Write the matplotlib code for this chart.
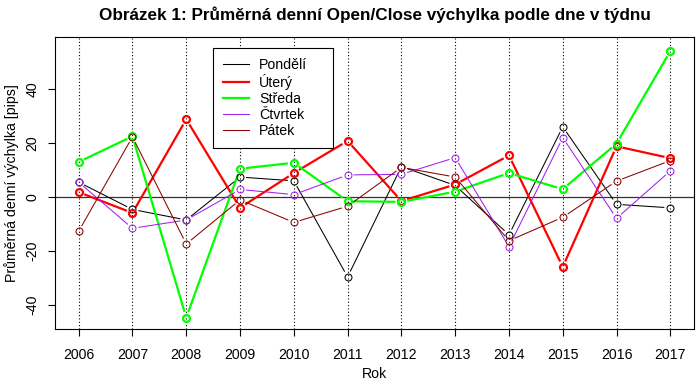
import numpy as np
import matplotlib
matplotlib.use("Agg")
import matplotlib.pyplot as plt

years = [2006, 2007, 2008, 2009, 2010, 2011, 2012, 2013, 2014, 2015, 2016, 2017]
pondeli = [5.5, -4.6, -8.5, 7.4, 6.0, -29.6, 11.3, 4.3, -14.0, 26.0, -2.7, -4.0]
utery = [1.8, -5.9, 28.8, -4.0, 8.9, 20.8, -1.5, 4.65, 15.4, -25.9, 18.8, 14.4]
streda = [13.0, 22.5, -44.7, 10.5, 12.7, -1.55, -1.8, 2.0, 8.9, 2.9, 19.8, 54.1]
ctvrtek = [5.5, -11.6, -8.5, 2.8, 0.9, 8.2, 8.4, 14.6, -18.4, 22.0, -7.9, 9.7]
patek = [-12.7, 22.3, -17.4, -1.05, -9.4, -3.4, 11.0, 7.4, -16.2, -7.5, 5.9, 13.5]

names = ["Pondělí", "Úterý", "Středa", "Čtvrtek", "Pátek"]
series = [pondeli, utery, streda, ctvrtek, patek]
colors = ["black", "#FF0000", "#00FF00", "#A020F0", "#8B0000"]
widths = [0.75, 1.6, 1.6, 0.75, 0.75]

plt.rcParams['font.family'] = ['Liberation Sans', 'DejaVu Sans']

fig = plt.figure(figsize=(7.0, 3.84), dpi=100)
ax = fig.add_axes([55/700, 1-329/384, (694-55)/700, (329-37)/384])

xmin, xmax = min(years), max(years)
pad = (xmax - xmin) * 0.04
ax.set_xlim(xmin - pad, xmax + pad)
ax.set_ylim(-48.9, 59.3)

for y in years:
    ax.axvline(y, color="black", lw=0.8, ls=(0, (1, 2)), zorder=1)
ax.axhline(0, color="#333333", lw=0.9, zorder=1)

gap = 6.0  # pixels
trans = ax.transData
inv = trans.inverted()
for vals, c, w in zip(series, colors, widths):
    pts = trans.transform(np.column_stack([years, vals]))
    for i in range(len(pts) - 1):
        p0, p1 = pts[i], pts[i + 1]
        d = p1 - p0
        L = np.hypot(*d)
        if L <= 2 * gap:
            continue
        u = d / L
        a = inv.transform(p0 + u * gap)
        b = inv.transform(p1 - u * gap)
        ax.plot([a[0], b[0]], [a[1], b[1]], color=c, lw=w, solid_capstyle='butt', zorder=2)
    ax.plot(years, vals, ls='none', marker='o', markersize=5.0, markerfacecolor='none',
            markeredgecolor=c, markeredgewidth=w, zorder=3)

fs = 10.2
handles = [plt.Line2D([], [], color=c, lw=w) for c, w in zip(colors, widths)]
lx0 = (213 - 55) / 639
lw_ = (333 - 213) / 639
ltop = 1 - (48 - 37) / 292
leg = ax.legend(handles, names, loc='upper left',
                bbox_to_anchor=(lx0, ltop - 0.3, lw_, 0.3), mode='expand',
                fancybox=False, frameon=True, edgecolor='black', framealpha=1,
                fontsize=fs, handlelength=1.8, handletextpad=0.75,
                labelspacing=0.14, borderpad=0.72, borderaxespad=0)
leg.get_frame().set_linewidth(0.8)

ax.set_xticks(years)
ax.set_xticklabels([str(y) for y in years])
ax.set_yticks([-40, -20, 0, 20, 40])
ax.set_yticklabels(["-40", "-20", "0", "20", "40"], rotation=90, va='center')
ax.tick_params(axis='x', direction='out', length=5, width=0.8, labelsize=fs, pad=8.5)
ax.tick_params(axis='y', direction='out', length=5, width=0.8, labelsize=fs, pad=6)
for s in ax.spines.values():
    s.set_linewidth(0.8)

ax.set_xlabel("Rok", fontsize=fs, labelpad=4)
ax.set_ylabel("Průměrná denní výchylka [pips]", fontsize=fs, labelpad=5)
ax.set_title("Obrázek 1: Průměrná denní Open/Close výchylka podle dne v týdnu",
             fontsize=12.3, fontweight='bold', pad=12)

fig.savefig("out.png", dpi=100)
